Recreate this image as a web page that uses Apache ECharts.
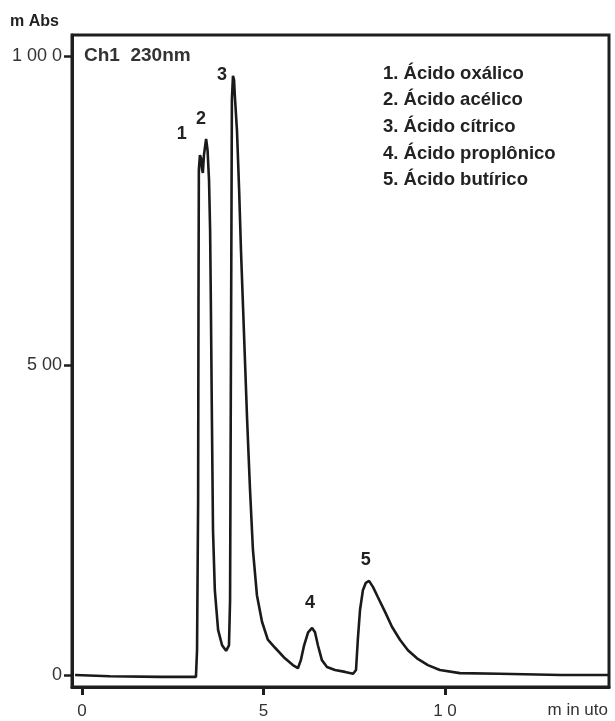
<!DOCTYPE html>
<html><head><meta charset="utf-8">
<script src="https://cdn.jsdelivr.net/npm/echarts@6/dist/echarts.min.js"></script>
<style>html,body{margin:0;padding:0;background:#fff}#c{width:615px;height:721px}</style>
</head><body><div id="c"></div>
<script>
// Chromatogram trace: time (min) and absorbance (mAbs)
const timeMin = [-0.19,0.77,2.15,3.14,3.17,3.20,3.21,3.22,3.25,3.28,3.31,3.33,3.36,3.42,3.46,3.50,3.53,3.55,3.58,3.61,3.66,3.75,3.86,3.97,4.05,4.08,4.10,4.12,4.13,4.16,4.19,4.21,4.27,4.33,4.38,4.44,4.49,4.55,4.63,4.71,4.82,4.96,5.12,5.32,5.59,5.81,5.95,6.03,6.12,6.23,6.34,6.42,6.50,6.61,6.75,6.97,7.25,7.47,7.55,7.60,7.66,7.74,7.82,7.91,8.02,8.15,8.35,8.54,8.76,8.98,9.23,9.53,9.86,10.41,11.5,13.2,14.5];
const absorb = [0,-2,-3,-3,40,283,606,816,840,835,816,811,840,866,848,800,719,606,412,234,137,73,48,39,48,121,444,767,929,968,961,937,880,783,687,590,509,412,299,202,129,86,57,44,27,16,11,24,48,69,76,69,48,24,13,8,5,2,8,57,105,137,149,152,142,126,102,78,57,40,27,16,8,3,2,0,0];
// Peak number labels
const peakNames = ['1','2','3','4','5'];
const peakLabelX = [2.75,3.28,3.86,6.28,7.82];
const peakLabelY = [874,898,969,116,186];
// Axis ticks
const yTickValues = [0,500,1000];
const yTickLabels = ['0','5 00','1 00 0'];
const xTickValues = [0,5,10];
const xTickLabels = ['0','5','1 0'];
const compounds = ['1. Ácido oxálico','2. Ácido acélico','3. Ácido cítrico','4. Ácido proplônico','5. Ácido butírico'];

const FONT = '"Liberation Sans Narrow","Liberation Sans",sans-serif';
const chart = echarts.init(document.getElementById('c'));
const lineData = timeMin.map((t,i)=>[t,absorb[i]]);
const labelData = peakNames.map((n,i)=>({value:[peakLabelX[i],peakLabelY[i]],name:n}));

chart.setOption({
  animation:false,
  grid:{left:72,right:6,top:35,bottom:34,show:true,borderColor:'#1e1e1e',borderWidth:3,backgroundColor:'transparent'},
  xAxis:{type:'value',min:-0.275,max:14.52,
    axisLine:{show:true,onZero:false,lineStyle:{color:'#1e1e1e',width:3}},
    splitLine:{show:false},
    axisTick:{show:true,customValues:xTickValues,length:8,lineStyle:{color:'#1e1e1e',width:3}},
    axisLabel:{customValues:xTickValues,margin:16,fontFamily:FONT,fontSize:17,color:'#333',
      formatter:v=>xTickLabels[xTickValues.indexOf(v)]}
  },
  yAxis:{type:'value',min:-19.4,max:1034,
    axisLine:{show:true,onZero:false,lineStyle:{color:'#1e1e1e',width:3}},
    splitLine:{show:false},
    axisTick:{show:true,customValues:yTickValues,length:8,lineStyle:{color:'#1e1e1e',width:2.5}},
    axisLabel:{customValues:yTickValues,margin:10,fontFamily:FONT,fontSize:18,color:'#333',
      formatter:v=>yTickLabels[yTickValues.indexOf(v)]}
  },
  series:[
    {type:'line',data:lineData,symbol:'none',smooth:false,
      lineStyle:{color:'#1a1a1a',width:2.6},z:3},
    {type:'scatter',data:labelData,symbolSize:0,itemStyle:{color:'#222',opacity:1},
      label:{show:true,position:'inside',formatter:p=>p.name,fontFamily:FONT,fontWeight:'bold',fontSize:18,color:'#222',opacity:1}}
  ],
  graphic:[
    {type:'text',left:10,top:14,style:{text:'m Abs',font:'bold 16px '+FONT,fill:'#222'}},
    {type:'text',left:84,top:46,style:{text:'Ch1  230nm',font:'bold 19px '+FONT,fill:'#333'}},
    {type:'text',right:7,top:702,style:{text:'m in uto',font:'17px '+FONT,fill:'#333'}},
    ...compounds.map((c,i)=>({type:'text',left:383,top:64+i*26.7,style:{text:c,font:'bold 18.5px '+FONT,fill:'#222'}}))
  ]
});
</script></body></html>
